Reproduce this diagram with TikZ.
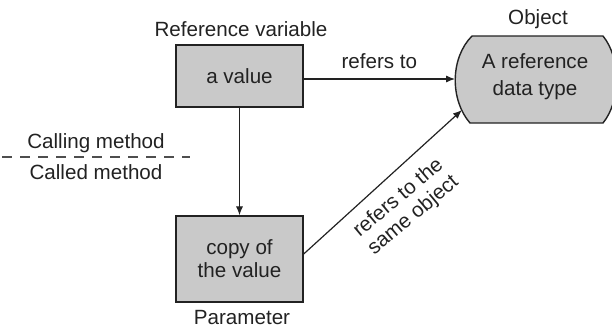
\documentclass[tikz,border=0pt]{standalone}
\usepackage{fontspec}
\setmainfont{Liberation Sans}
\usetikzlibrary{arrows.meta}
\definecolor{boxfill}{HTML}{C9C9C9}
\definecolor{ink}{HTML}{222222}
\tikzset{
  lbl/.style={text=ink, font=\fontsize{10.3}{12}\selectfont, inner sep=0pt},
  valbox/.style={draw=ink, line width=0.7pt, fill=boxfill, minimum width=63.5pt, text=ink,
     font=\fontsize{10.3}{11.5}\selectfont, align=center, inner sep=0pt},
  conn/.style={draw=ink, line width=0.6pt, -{Latex[length=4.5pt,width=3.6pt]}},
}
\begin{document}
\begin{tikzpicture}[x=0.5pt,y=-0.5pt]
\useasboundingbox (0,0) rectangle (612,328);
\clip (0,0) rectangle (612,328);
% object shape
\path[draw=ink, line width=0.7pt, fill=boxfill]
  (472,36) -- (603,36) .. controls (621,58) and (621,101) .. (603,123)
  -- (470,123) .. controls (450,100) and (450,58) .. (472,36) -- cycle;
\node[lbl, align=center, font=\fontsize{10.3}{13.5}\selectfont] (obj) at (535,77) {A reference\\data type};
\node[lbl] (objt) at (538,19) {Object};
\coordinate (objL) at (455,79);
\coordinate (objLL) at (462,110);
% boxes
\node[valbox, minimum height=31pt] (val) at (239.5,76) {a value};
\node[valbox, minimum height=43pt] (copy) at (239.5,259) {copy of\\the value};
\node[lbl] (rv) at (241,29) {Reference variable};
\node[lbl] (par) at (242,318) {Parameter};
% dashed separator
\node[lbl] (calling) at (96,143) {Calling method};
\node[lbl] (called) at (96,172) {Called method};
\coordinate (dl) at (2,157);
\coordinate (dr) at (190,157);
\draw[draw=ink!80, line width=0.7pt, dash pattern=on 5pt off 4pt] (dl) -- (dr);
% connectors
\draw[conn] (val.south) -- (copy.north);
\draw[conn] (val.east |- objL) -- node[lbl, above=5pt] {refers to} (objL);
\draw[conn] ([yshift=2.5pt]copy.east) -- (objLL);
\node[lbl, align=center, rotate=40, font=\fontsize{10.3}{11.5}\selectfont] (same) at (406,207) {refers to the\\same object};
\end{tikzpicture}
\end{document}
